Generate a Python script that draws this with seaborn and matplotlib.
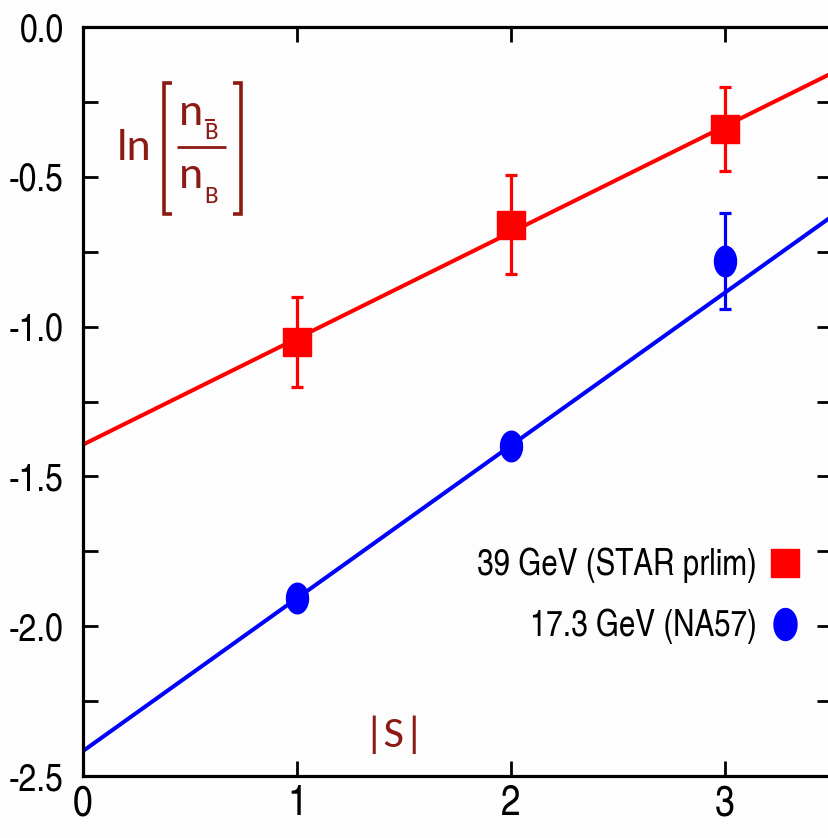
import numpy as np
import pandas as pd
import matplotlib
matplotlib.use("Agg")
import matplotlib.pyplot as plt
from matplotlib.path import Path
from matplotlib.lines import Line2D
import seaborn as sns

# |S| strangeness content
strangeness = [1, 2, 3]
# 39 GeV (STAR preliminary)
star_y = [-1.05, -0.66, -0.34]
star_err = [0.15, 0.165, 0.14]
# 17.3 GeV (NA57)
na57_y = [-1.905, -1.40, -0.78]
na57_err = [0.02, 0.02, 0.16]

labels = ["39 GeV (STAR prlim)", "17.3 GeV (NA57)"]
yticks_major = [0.0, -0.5, -1.0, -1.5, -2.0, -2.5]
xticks = [0, 1, 2, 3]

sns.set_theme(style="ticks")
COND = ["TeX Gyre Heros Cn", "Liberation Sans", "DejaVu Sans"]
plt.rcParams["font.family"] = COND
plt.rcParams["text.color"] = "black"
plt.rcParams["xtick.color"] = "black"
plt.rcParams["ytick.color"] = "black"

RED = "#ff0000"
BLUE = "#0000ff"
MAROON = "#8c1a14"
LABEL_FONT = ["Carlito", "Liberation Sans", "DejaVu Sans"]

W, H = 829, 838


def fp(px, py):
    """Figure fraction from pixel position measured from the top-left."""
    return px / W, 1 - py / H


# slightly tall ellipse used for the NA57 points
t = np.linspace(0, 2 * np.pi, 60)
ellipse = Path(np.column_stack([0.72 * np.cos(t), np.sin(t)]))

fig = plt.figure(figsize=(W / 100, H / 100), dpi=100)
fig.patch.set_facecolor("#fdfdfd")
ax = fig.add_axes([83 / W, 1 - 776 / H, (832 - 83) / W, (776 - 27) / H])
ax.set_facecolor("#fdfdfd")

df = pd.DataFrame({
    "S": strangeness * 2,
    "y": star_y + na57_y,
    "err": star_err + na57_err,
    "set": [labels[0]] * 3 + [labels[1]] * 3,
})

# weighted straight-line fits drawn across the full range
xfit = np.linspace(0, 3.6, 50)
for name, col in zip(labels, [RED, BLUE]):
    sub = df[df["set"] == name]
    k, b = np.polyfit(sub["S"], sub["y"], 1, w=1.0 / sub["err"])
    sns.lineplot(x=xfit, y=k * xfit + b, color=col, lw=2.9, ax=ax, zorder=2)

for name, col, mk, ms in zip(labels, [RED, BLUE], ["s", ellipse], [20, 22]):
    sub = df[df["set"] == name]
    ax.errorbar(sub["S"], sub["y"], yerr=sub["err"], fmt="none", ecolor=col,
                elinewidth=2.3, capsize=4, capthick=2.3, zorder=3)
    ax.plot(sub["S"], sub["y"], ls="none", marker=mk, ms=ms, color=col,
            mec=col, zorder=4)

ax.set_xlim(0, 3.5)
ax.set_ylim(-2.5, 0.0)
ax.set_xticks(xticks)
ax.set_xticklabels([str(v) for v in xticks])
ax.set_yticks(yticks_major)
ax.set_yticklabels([f"{v:.1f}" for v in yticks_major])
ax.set_yticks(np.arange(-2.25, 0, 0.5), minor=True)

ax.tick_params(axis="both", which="both", direction="in", top=True, right=True,
               length=11, width=2.0, color="black")
ax.tick_params(axis="y", labelsize=28, pad=14)
ax.tick_params(axis="x", labelsize=31, pad=6)
for sp in ax.spines.values():
    sp.set_linewidth(2.3)
    sp.set_color("black")
ax.set_xlabel("")
ax.set_ylabel("")

# axis labels in the plotting area
fig.text(*fp(394, 735), "|S|", color=MAROON, fontsize=32, family=LABEL_FONT,
         ha="center", va="center")

fig.text(*fp(117, 160), "ln", color=MAROON, fontsize=33, family=LABEL_FONT,
         ha="left", va="baseline")
fig.text(*fp(179, 125), "n", color=MAROON, fontsize=33, family=LABEL_FONT,
         ha="left", va="baseline")
fig.text(*fp(204, 139), "B", color=MAROON, fontsize=18, family=LABEL_FONT,
         ha="left", va="baseline")
fig.text(*fp(179, 188), "n", color=MAROON, fontsize=33, family=LABEL_FONT,
         ha="left", va="baseline")
fig.text(*fp(204, 203), "B", color=MAROON, fontsize=18, family=LABEL_FONT,
         ha="left", va="baseline")


def seg(points, lw):
    xs, ys = zip(*[fp(*p) for p in points])
    fig.add_artist(Line2D(xs, ys, color=MAROON, lw=lw, solid_capstyle="butt",
                          solid_joinstyle="miter", transform=fig.transFigure))


seg([(172, 83), (164, 83), (164, 214), (172, 214)], 2.6)   # left bracket
seg([(233, 83), (241, 83), (241, 214), (233, 214)], 2.6)   # right bracket
seg([(177, 147), (226, 147)], 2.0)                         # fraction bar
seg([(205, 120), (215, 120)], 1.4)                         # bar over B

handles = [
    Line2D([], [], ls="none", marker="s", ms=20, color=RED),
    Line2D([], [], ls="none", marker=ellipse, ms=23, color=BLUE),
]
leg = ax.legend(handles, labels, loc="center right",
                bbox_to_anchor=(fp(801, 596)), bbox_transform=fig.transFigure,
                markerfirst=False, frameon=False, fontsize=26, handlelength=0.9,
                handletextpad=0.33, labelspacing=0.7, borderaxespad=0,
                borderpad=0)

fig.savefig("out.png", dpi=100, facecolor=fig.get_facecolor())
